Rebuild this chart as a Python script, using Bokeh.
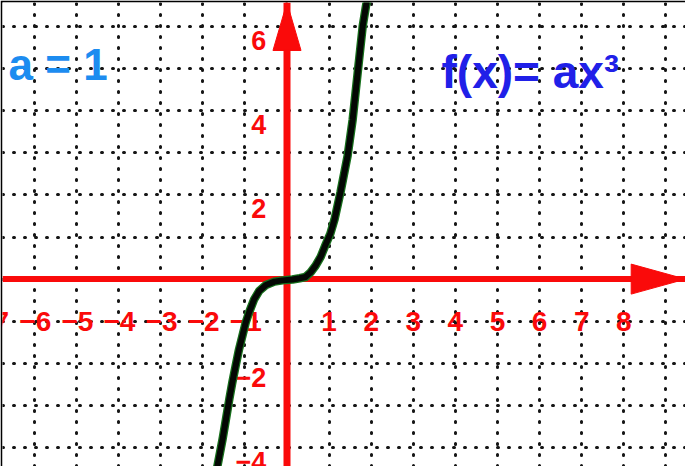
from bokeh.plotting import figure
from bokeh.models import Range1d, FixedTicker
from bokeh.core.properties import value
from bokeh.embed import file_html
from bokeh.resources import INLINE

# ---- data ----
curve_x = [-1.72, -1.65, -1.53, -1.45, -1.37, -1.30, -1.22, -1.14, -1.06, -0.98, -0.90, -0.78,
           -0.66, -0.50, -0.30, -0.11, 0.13, 0.30, 0.44, 0.56, 0.68, 0.80, 0.91, 1.03, 1.13,
           1.27, 1.44, 1.56, 1.68, 1.80, 1.89, 1.94]
curve_y = [-4.70, -4.43, -3.80, -3.33, -2.85, -2.46, -2.06, -1.67, -1.35, -1.03, -0.79, -0.48,
           -0.28, -0.14, -0.06, -0.03, -0.01, 0.02, 0.05, 0.16, 0.32, 0.53, 0.80, 1.08, 1.42,
           2.06, 2.93, 3.79, 4.91, 6.02, 6.57, 6.90]

x_tick_values = [-7, -6, -5, -4, -3, -2, -1, 1, 2, 3, 4, 5, 6, 7, 8]
x_tick_labels = ["−7", "−6", "−5", "−4", "−3", "−2", "−1", "1", "2", "3", "4", "5", "6", "7", "8"]
y_tick_values = [6, 4, 2, -2, -4]
y_tick_labels = ["6", "4", "2", "−2", "−4"]
grid_values_x = list(range(-7, 10))
grid_values_y = list(range(-5, 8))

param_label = "a = 1"
func_label = "f(x)= ax³"

x_start, x_end = -6.758, 9.466
y_start, y_end = -4.451, 6.570

RED = "#fa0a0a"
FONT = value("Liberation Sans")

p = figure(width=685, height=466, output_backend="svg", toolbar_location=None,
           x_range=Range1d(x_start, x_end), y_range=Range1d(y_start, y_end),
           x_axis_location=None, y_axis_location=None,
           min_border_left=2, min_border_top=2, min_border_right=0, min_border_bottom=0)
p.border_fill_color = "black"
p.background_fill_color = "white"
p.outline_line_color = None

for g, vals in ((p.xgrid, grid_values_x), (p.ygrid, grid_values_y)):
    g.ticker = FixedTicker(ticks=vals)
    g.grid_line_color = "#151515"
    g.grid_line_width = 3
    g.grid_line_dash = "1 10"
    g.grid_line_cap = "round"

# red axes
p.line([x_start, x_end], [0, 0], line_color=RED, line_width=6)
p.line([0, 0], [y_start, y_end], line_color=RED, line_width=7)

# arrow heads (derived from the range ends)
v_base = y_end - 1.14
p.patch([-0.333, 0.333, 0.0], [v_base, v_base, y_end], fill_color=RED, line_color=RED)
h_base = x_end - 1.29
p.patch([h_base, h_base, x_end], [-0.356, 0.356, 0.0], fill_color=RED, line_color=RED)

# tick labels
pos_x = [v for v in x_tick_values if v > 0]
pos_l = [l for v, l in zip(x_tick_values, x_tick_labels) if v > 0]
neg_x = [v + 0.40 for v in x_tick_values if v < 0]
neg_l = [l for v, l in zip(x_tick_values, x_tick_labels) if v < 0]
p.text(pos_x, [-1.0] * len(pos_x), text=pos_l, text_align="center", text_baseline="alphabetic",
       text_font=FONT, text_font_style="bold", text_font_size="28px", text_color=RED)
p.text(neg_x, [-1.0] * len(neg_x), text=neg_l, text_align="right", text_baseline="alphabetic",
       text_font=FONT, text_font_style="bold", text_font_size="28px", text_color=RED)
p.text([-0.49] * len(y_tick_values), [v - 0.33 for v in y_tick_values], text=y_tick_labels,
       text_align="right", text_baseline="alphabetic",
       text_font=FONT, text_font_style="bold", text_font_size="27px", text_color=RED)

# curve
p.line(curve_x, curve_y, line_color="#17701c", line_width=8.5, line_join="round", line_cap="round")
p.line(curve_x, curve_y, line_color="#040804", line_width=6, line_join="round", line_cap="round")

# titles
p.text([-6.615], [5.097], text=[param_label], text_align="left", text_baseline="alphabetic",
       text_font=FONT, text_font_style="bold", text_font_size="44px", text_color="#1c8cf0")
p.text([3.67], [4.93], text=[func_label], text_align="left", text_baseline="alphabetic",
       text_font=FONT, text_font_style="bold", text_font_size="46px", text_color="#2020e8")

open("out.html", "w").write(file_html(p, INLINE))
